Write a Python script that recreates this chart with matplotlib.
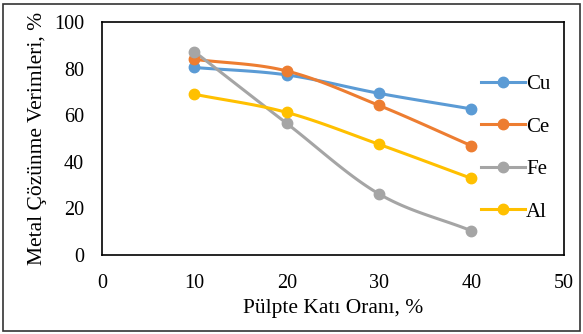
import numpy as np
import matplotlib
matplotlib.use("Agg")
import matplotlib.pyplot as plt
from matplotlib.patches import Rectangle

plt.rcParams["font.family"] = ["Liberation Serif", "DejaVu Serif"]

# data
x_vals = [10, 20, 30, 40]
cu = [80.5, 77.3, 69.4, 62.7]
ce = [84.0, 79.0, 64.2, 46.9]
fe = [87.3, 56.5, 26.2, 10.4]
al = [69.0, 61.2, 47.5, 32.9]
labels = ["Cu", "Ce", "Fe", "Al"]
colors = ["#5B9BD5", "#ED7D31", "#A5A5A5", "#FFC000"]


def smooth(xs, ys, n=30):
    # Catmull-Rom style curve through the points (like Excel smoothed lines)
    xs = np.asarray(xs, float)
    ys = np.asarray(ys, float)
    px = np.concatenate([[2 * xs[0] - xs[1]], xs, [2 * xs[-1] - xs[-2]]])
    py = np.concatenate([[2 * ys[0] - ys[1]], ys, [2 * ys[-1] - ys[-2]]])
    ox, oy = [], []
    t = np.linspace(0, 1, n)
    for i in range(1, len(px) - 2):
        for arr, out in ((px, ox), (py, oy)):
            p0, p1, p2, p3 = arr[i - 1], arr[i], arr[i + 1], arr[i + 2]
            m1 = (p2 - p0) / 2 / 3
            m2 = (p3 - p1) / 2 / 3
            seg = ((1 - t) ** 3 * p1 + 3 * (1 - t) ** 2 * t * (p1 + m1)
                   + 3 * (1 - t) * t ** 2 * (p2 - m2) + t ** 3 * p2)
            out.extend(seg)
    return np.array(ox), np.array(oy)


fig = plt.figure(figsize=(5.83, 3.34), dpi=100)
ax = fig.add_axes([0.175, 0.2365, 0.792, 0.6975])

for ys, lab, c in zip([cu, ce, fe, al], labels, colors):
    sx, sy = smooth(x_vals, ys)
    ax.plot(sx, sy, color=c, lw=2.2, zorder=2)
    ax.plot(x_vals, ys, "o", color=c, ms=7.5, zorder=3)
    ax.plot([], [], "-o", color=c, lw=2.2, ms=7.5, label=lab)

ax.set_xlim(0, 50)
ax.set_ylim(0, 100)
ax.set_xticks([0, 10, 20, 30, 40, 50])
ax.set_yticks([0, 20, 40, 60, 80, 100])
ax.tick_params(axis="y", length=0, labelsize=14.5, pad=13)
ax.tick_params(axis="x", length=0, labelsize=14.5, pad=14)
for s in ax.spines.values():
    s.set_color("black")
    s.set_linewidth(1.2)
ax.set_xlabel("Pülpte Katı Oranı, %", fontsize=15.5, labelpad=4)
ax.set_ylabel("Metal Çözünme Verimleri, %", fontsize=15.5, labelpad=5)

ax.legend(loc="upper left", bbox_to_anchor=(0.803, 0.81), frameon=False,
          fontsize=15, handlelength=2.1, handletextpad=0.05,
          labelspacing=1.1, borderaxespad=0)

fig.patches.append(Rectangle((0.006, 0.01), 0.988, 0.978, transform=fig.transFigure,
                             fill=False, edgecolor="#333333", lw=1.2))

fig.savefig("out.png", dpi=100)
